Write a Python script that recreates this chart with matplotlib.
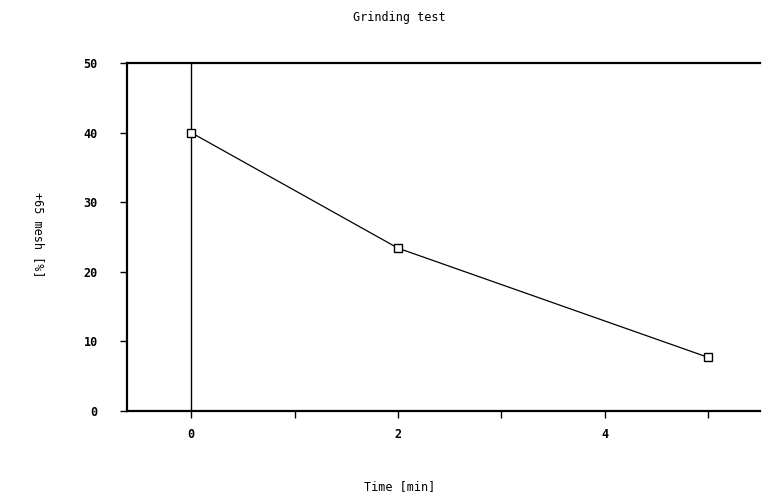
import matplotlib
matplotlib.use("Agg")
import matplotlib.pyplot as plt

# grinding test data
time_min = [0, 2, 5]
mesh_pct = [40.0, 23.4, 7.7]

xticks = [0, 1, 2, 3, 4, 5]
xticklabels = ["0", "", "2", "", "4", ""]
yticks = [0, 10, 20, 30, 40, 50]

plt.rcParams['font.family'] = ['DejaVu Sans Mono']

fig = plt.figure(figsize=(7.63, 4.95), dpi=100)
ax = fig.add_axes([0.1665, 0.1697, 0.8295, 0.703])

ax.plot(time_min, mesh_pct, color='black', lw=0.9, marker='s', ms=6,
        mfc='white', mec='black', mew=1.0)
ax.axvline(0, color='black', lw=1.0, zorder=0)

ax.set_xlim(-0.62, 5.5)
ax.set_ylim(0, 50)
ax.set_xticks(xticks)
ax.set_xticklabels(xticklabels)
ax.set_yticks(yticks)

for s in ['top', 'bottom', 'left']:
    ax.spines[s].set_linewidth(1.6)
ax.spines['right'].set_visible(False)
ax.tick_params(direction='out', length=5, width=1.0, labelsize=8.5)
ax.tick_params(axis='y', pad=16)
ax.tick_params(axis='x', pad=7)
for lab in ax.get_xticklabels() + ax.get_yticklabels():
    lab.set_fontweight('bold')

fig.text(0.524, 0.965, "Grinding test", ha='center', va='center', fontsize=8.5)
fig.text(0.524, 0.018, "Time [min]", ha='center', va='center', fontsize=8.5)
fig.text(0.05, 0.525, "+65 mesh [%]", ha='center', va='center', fontsize=8.5, rotation=-90)

fig.savefig("out.png", dpi=100)
